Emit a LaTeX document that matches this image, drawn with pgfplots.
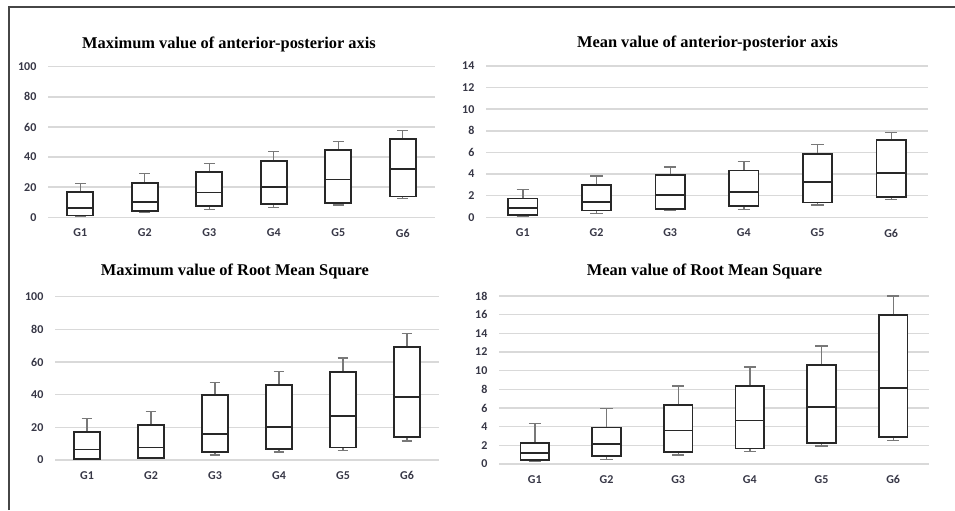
\documentclass[border=0pt]{standalone}
\usepackage{pgfplots}
\pgfplotsset{compat=1.18}
\usepgfplotslibrary{statistics}
\usepackage{fontspec}
\setmainfont{Liberation Serif}
\newfontfamily\tickfont{Carlito}
\definecolor{gridc}{RGB}{217,217,217}
\definecolor{tickc}{RGB}{55,55,70}
\definecolor{boxc}{RGB}{40,40,40}
\definecolor{whisc}{RGB}{120,120,120}
\definecolor{framec}{RGB}{70,70,70}
\pgfplotsset{
  panel/.style={
    scale only axis, anchor=south west,
    xmin=0.5, xmax=6.5, ymin=0,
    xtick={1,2,3,4,5,6}, xticklabels={G1,G2,G3,G4,G5,G6},
    ymajorgrids, major grid style={gridc, line width=1.1pt},
    axis line style={draw=none}, tick style={draw=none},
    tick label style={font=\tickfont\bfseries\fontsize{9}{10}\selectfont, text=tickc},
    /pgf/number format/assume math mode=true,
    yticklabel style={inner sep=0pt, xshift=-8.5pt},
    xticklabel style={inner sep=0pt, yshift=-8.5pt},
    clip=false,
    boxplot/draw direction=y,
    boxplot/box extend=0.4,
    boxplot/whisker extend=0.17,
    boxplot/every box/.style={draw=boxc, line width=1.3pt, fill=white},
    boxplot/every median/.style={draw=boxc, line width=1.3pt},
    boxplot/every whisker/.style={draw=whisc, line width=1pt},
  },
}
\begin{document}
\begin{tikzpicture}
\useasboundingbox (0,0) rectangle (716.25pt,382.5pt);
\draw[framec, line width=1.4pt] (6.75pt,0pt) -- (6.75pt,377.25pt) -- (716.25pt,377.25pt);
\tikzset{ttl/.style={font=\fontsize{12.3}{14}\selectfont\bfseries, text=black, inner sep=0pt}}
\node[ttl] at (171.75pt,349.5pt) {Maximum value of anterior-posterior axis};
\node[ttl] at (530.6pt,350.25pt) {Mean value of anterior-posterior axis};
\node[ttl] at (176.25pt,179.25pt) {Maximum value of Root Mean Square};
\node[ttl] at (528.4pt,179.25pt) {Mean value of Root Mean Square};

% Panel 1
\begin{axis}[panel, at={(36pt,219.5pt)}, width=290.25pt, height=112.95pt,
  ymax=100, ytick={0,20,40,60,80,100}]
\addplot[boxplot prepared={lower whisker=0.5, lower quartile=1.3, median=6, upper quartile=17, upper whisker=22.3, draw position=1}] coordinates {};
\addplot[boxplot prepared={lower whisker=3.1, lower quartile=4.4, median=10.4, upper quartile=22.8, upper whisker=29, draw position=2}] coordinates {};
\addplot[boxplot prepared={lower whisker=5.1, lower quartile=7.3, median=16.4, upper quartile=30.3, upper whisker=35.6, draw position=3}] coordinates {};
\addplot[boxplot prepared={lower whisker=6.6, lower quartile=8.8, median=19.9, upper quartile=37.6, upper whisker=43.6, draw position=4}] coordinates {};
\addplot[boxplot prepared={lower whisker=8.2, lower quartile=9.5, median=25.2, upper quartile=44.9, upper whisker=50.4, draw position=5}] coordinates {};
\addplot[boxplot prepared={lower whisker=12.4, lower quartile=13.9, median=31.9, upper quartile=51.8, upper whisker=57.7, draw position=6}] coordinates {};
\end{axis}

% Panel 2
\begin{axis}[panel, at={(364.5pt,219.5pt)}, width=331.5pt, height=113.5pt,
  ymax=14, ytick={0,2,4,6,8,10,12,14}]
\addplot[boxplot prepared={lower whisker=0.06, lower quartile=0.19, median=0.83, upper quartile=1.73, upper whisker=2.59, draw position=1}] coordinates {};
\addplot[boxplot prepared={lower whisker=0.34, lower quartile=0.62, median=1.45, upper quartile=2.99, upper whisker=3.82, draw position=2}] coordinates {};
\addplot[boxplot prepared={lower whisker=0.62, lower quartile=0.80, median=2.07, upper quartile=3.92, upper whisker=4.66, draw position=3}] coordinates {};
\addplot[boxplot prepared={lower whisker=0.71, lower quartile=1.02, median=2.37, upper quartile=4.32, upper whisker=5.15, draw position=4}] coordinates {};
\addplot[boxplot prepared={lower whisker=1.14, lower quartile=1.36, median=3.30, upper quartile=5.89, upper whisker=6.72, draw position=5}] coordinates {};
\addplot[boxplot prepared={lower whisker=1.63, lower quartile=1.85, median=4.13, upper quartile=7.12, upper whisker=7.83, draw position=6}] coordinates {};
\end{axis}

% Panel 3
\begin{axis}[panel, at={(41.25pt,37.5pt)}, width=288pt, height=122.5pt,
  ymax=100, ytick={0,20,40,60,80,100}]
\addplot[boxplot prepared={lower whisker=0.4, lower quartile=0.8, median=6.5, upper quartile=17.3, upper whisker=25.5, draw position=1}] coordinates {};
\addplot[boxplot prepared={lower whisker=0.8, lower quartile=1.4, median=7.6, upper quartile=21.4, upper whisker=29.6, draw position=2}] coordinates {};
\addplot[boxplot prepared={lower whisker=3.1, lower quartile=4.9, median=15.9, upper quartile=39.8, upper whisker=47.3, draw position=3}] coordinates {};
\addplot[boxplot prepared={lower whisker=4.9, lower quartile=6.7, median=20, upper quartile=45.9, upper whisker=54.3, draw position=4}] coordinates {};
\addplot[boxplot prepared={lower whisker=5.7, lower quartile=7.6, median=26.9, upper quartile=54.1, upper whisker=62.4, draw position=5}] coordinates {};
\addplot[boxplot prepared={lower whisker=11.6, lower quartile=13.9, median=38.6, upper quartile=69.2, upper whisker=77.6, draw position=6}] coordinates {};
\end{axis}

% Panel 4
\begin{axis}[panel, at={(374.25pt,34.5pt)}, width=322.5pt, height=126pt,
  ymax=18, ytick={0,2,4,6,8,10,12,14,16,18}]
\addplot[boxplot prepared={lower whisker=0.25, lower quartile=0.46, median=1.21, upper quartile=2.28, upper whisker=4.31, draw position=1}] coordinates {};
\addplot[boxplot prepared={lower whisker=0.5, lower quartile=0.82, median=2.14, upper quartile=3.91, upper whisker=5.94, draw position=2}] coordinates {};
\addplot[boxplot prepared={lower whisker=0.96, lower quartile=1.32, median=3.59, upper quartile=6.33, upper whisker=8.36, draw position=3}] coordinates {};
\addplot[boxplot prepared={lower whisker=1.32, lower quartile=1.67, median=4.66, upper quartile=8.36, upper whisker=10.39, draw position=4}] coordinates {};
\addplot[boxplot prepared={lower whisker=1.92, lower quartile=2.28, median=6.09, upper quartile=10.6, upper whisker=12.63, draw position=5}] coordinates {};
\addplot[boxplot prepared={lower whisker=2.53, lower quartile=2.88, median=8.11, upper quartile=15.94, upper whisker=18, draw position=6}] coordinates {};
\end{axis}
\end{tikzpicture}
\end{document}
